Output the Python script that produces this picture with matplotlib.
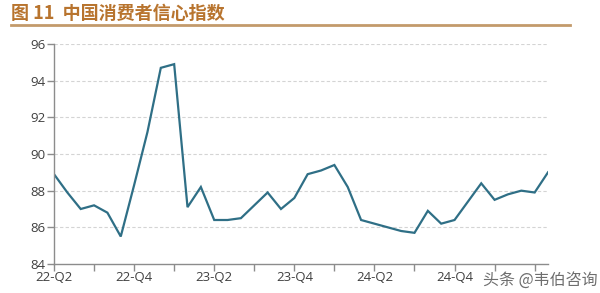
import matplotlib
matplotlib.use("Agg")
import matplotlib.pyplot as plt
from matplotlib.lines import Line2D

plt.rcParams['font.family'] = ['Open Sans', 'Noto Sans CJK SC', 'DejaVu Sans']

# Monthly data, Jun 2022 .. Jul 2025
months = ["2022-06", "2022-07", "2022-08", "2022-09", "2022-10", "2022-11", "2022-12",
          "2023-01", "2023-02", "2023-03", "2023-04", "2023-05", "2023-06", "2023-07",
          "2023-08", "2023-09", "2023-10", "2023-11", "2023-12", "2024-01", "2024-02",
          "2024-03", "2024-04", "2024-05", "2024-06", "2024-07", "2024-08", "2024-09",
          "2024-10", "2024-11", "2024-12", "2025-01", "2025-02", "2025-03", "2025-04",
          "2025-05", "2025-06", "2025-07"]
confidence = [88.9, 87.9, 87.0, 87.2, 86.8, 85.5, 88.3,
              91.2, 94.7, 94.9, 87.1, 88.2, 86.4, 86.4,
              86.5, 87.2, 87.9, 87.0, 87.6, 88.9, 89.1,
              89.4, 88.2, 86.4, 86.2, 86.0, 85.8, 85.7,
              86.9, 86.2, 86.4, 87.4, 88.4, 87.5, 87.8,
              88.0, 87.9, 89.0]
tick_idx = [0, 3, 6, 9, 12, 15, 18, 21, 24, 27, 30, 33, 36]
tick_labels = ["22-Q2", "", "22-Q4", "", "23-Q2", "", "23-Q4", "", "24-Q2", "", "24-Q4", "", ""]
yticks = [84, 86, 88, 90, 92, 94, 96]

title = "图 11  中国消费者信心指数"
watermark = "头条 @韦伯咨询"

fig = plt.figure(figsize=(6.0, 2.93), dpi=100)
ax = fig.add_axes([54/600, 1-264/293, (548-54)/600, (264-44)/293])

x = list(range(len(confidence)))
ax.plot(x, confidence, color="#2f6f86", lw=1.6, solid_joinstyle="miter")

ax.set_xlim(0, len(confidence) - 1)
ax.set_ylim(84, 96)
ax.set_yticks(yticks)
ax.set_yticklabels([str(v) for v in yticks])
ax.set_xticks(tick_idx)
ax.set_xticklabels(tick_labels)

for v in yticks[1:]:
    ax.axhline(v, color="#d4d4d4", lw=0.8, ls=(0, (3, 2)), zorder=0)

for s in ["top", "right"]:
    ax.spines[s].set_visible(False)
for s in ["left", "bottom"]:
    ax.spines[s].set_color("#8c8c8c")
    ax.spines[s].set_linewidth(1.0)
ax.tick_params(axis="both", direction="out", length=5, width=1.0, color="#8c8c8c",
               labelsize=9.5, labelcolor="#404040", pad=1)
ax.tick_params(axis="x", pad=0)

fig.text(11/600, 1-13/293, title, fontsize=13, fontweight="bold", color="#b8742e",
         ha="left", va="center", family=['Noto Sans CJK SC', 'DejaVu Sans'])
fig.add_artist(Line2D([11/600, 570/600], [1-25/293, 1-25/293], transform=fig.transFigure,
                      color="#c39a6b", lw=2.0))

fig.text(483/600, 1-280/293, watermark, fontsize=11.5, color="#555555", alpha=0.85,
         ha="left", va="center", family=['Noto Sans CJK SC', 'DejaVu Sans'])

fig.savefig("out.png", dpi=100, facecolor="white")
